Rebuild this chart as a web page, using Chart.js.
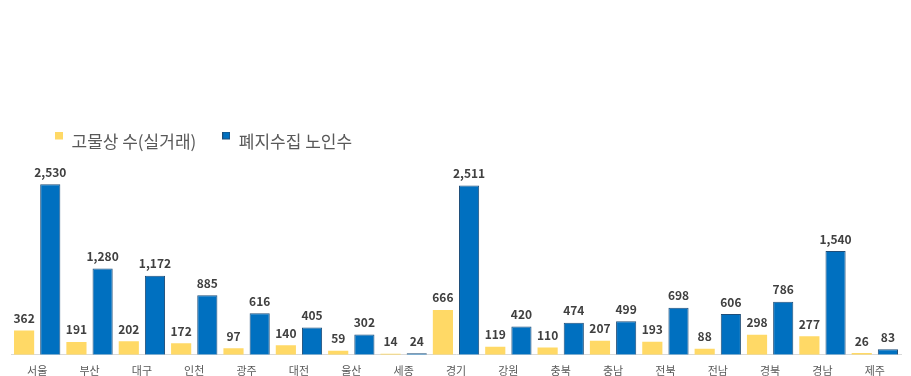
<!DOCTYPE html>
<html>
<head>
<meta charset="utf-8">
<script src="https://cdn.jsdelivr.net/npm/chart.js@4"></script>
<style>
  html, body { margin: 0; padding: 0; background: #fff; }
  #wrap { width: 911px; height: 376px; }
</style>
</head>
<body>
<div id="wrap"><canvas id="chart"></canvas></div>
<script>
const regions = ['서울', '부산', '대구', '인천', '광주', '대전', '울산', '세종', '경기', '강원', '충북', '충남', '전북', '전남', '경북', '경남', '제주'];
const scrapyards = [362, 191, 202, 172, 97, 140, 59, 14, 666, 119, 110, 207, 193, 88, 298, 277, 26];
const collectors = [2530, 1280, 1172, 885, 616, 405, 302, 24, 2511, 420, 474, 499, 698, 606, 786, 1540, 83];

const FONT = '"Noto Sans CJK KR", "Noto Sans", sans-serif';
const YELLOW = '#FFD966';
const BLUE = '#0070C0';
const BLUE_EDGE = '#1F4E79';

// legend marker sits high next to the text, like the excel original
function legendMarker(fill, edge) {
  const c = document.createElement('canvas');
  c.width = 8;
  c.height = 20;
  const g = c.getContext('2d');
  g.fillStyle = fill;
  g.fillRect(0, 0, 8, 8);
  if (edge) {
    g.strokeStyle = edge;
    g.lineWidth = 1;
    g.strokeRect(0.5, 0.5, 7, 7);
  }
  return c;
}
const markers = [legendMarker(YELLOW), legendMarker(BLUE, BLUE_EDGE)];

// draw the value above each bar
const barLabels = {
  id: 'barLabels',
  afterDatasetsDraw(chart) {
    const ctx = chart.ctx;
    ctx.save();
    ctx.font = 'bold 12px ' + FONT;
    ctx.fillStyle = '#404040';
    ctx.textAlign = 'center';
    ctx.textBaseline = 'bottom';
    chart.data.datasets.forEach((ds, i) => {
      chart.getDatasetMeta(i).data.forEach((bar, j) => {
        ctx.fillText(ds.data[j].toLocaleString('en-US'), bar.x, bar.y - 6);
      });
    });
    ctx.restore();
  }
};

// push the legend a bit to the right without moving the plot
const legendShift = {
  id: 'legendShift',
  afterLayout(chart) {
    chart.legend.left += 18;
    chart.legend.right += 18;
  }
};

new Chart(document.getElementById('chart'), {
  type: 'bar',
  data: {
    labels: regions,
    datasets: [
      {
        label: '고물상 수(실거래)',
        data: scrapyards,
        backgroundColor: YELLOW,
        borderWidth: 0,
        barPercentage: 0.77,
        categoryPercentage: 1.0
      },
      {
        label: '폐지수집 노인수',
        data: collectors,
        backgroundColor: BLUE,
        borderColor: BLUE_EDGE,
        borderWidth: 1,
        barPercentage: 0.77,
        categoryPercentage: 1.0
      }
    ]
  },
  options: {
    responsive: true,
    maintainAspectRatio: false,
    animation: false,
    layout: { padding: { top: 107, left: 11, right: 10, bottom: -10 } },
    plugins: {
      legend: {
        position: 'top',
        align: 'start',
        labels: {
          usePointStyle: true,
          boxWidth: 8,
          boxHeight: 8,
          padding: 26,
          color: '#595959',
          font: { size: 17, family: FONT },
          generateLabels(chart) {
            const items = Chart.defaults.plugins.legend.labels.generateLabels(chart);
            items.forEach((it, i) => { it.pointStyle = markers[i]; });
            return items;
          }
        }
      },
      tooltip: { enabled: false }
    },
    scales: {
      x: {
        grid: { display: false, drawTicks: false },
        border: { display: true, color: '#D9D9D9' },
        ticks: { color: '#595959', padding: 9, font: { size: 11, family: FONT, lineHeight: 1.2 } }
      },
      y: {
        display: false,
        min: 0,
        max: 2890
      }
    }
  },
  plugins: [barLabels, legendShift]
});
</script>
</body>
</html>
